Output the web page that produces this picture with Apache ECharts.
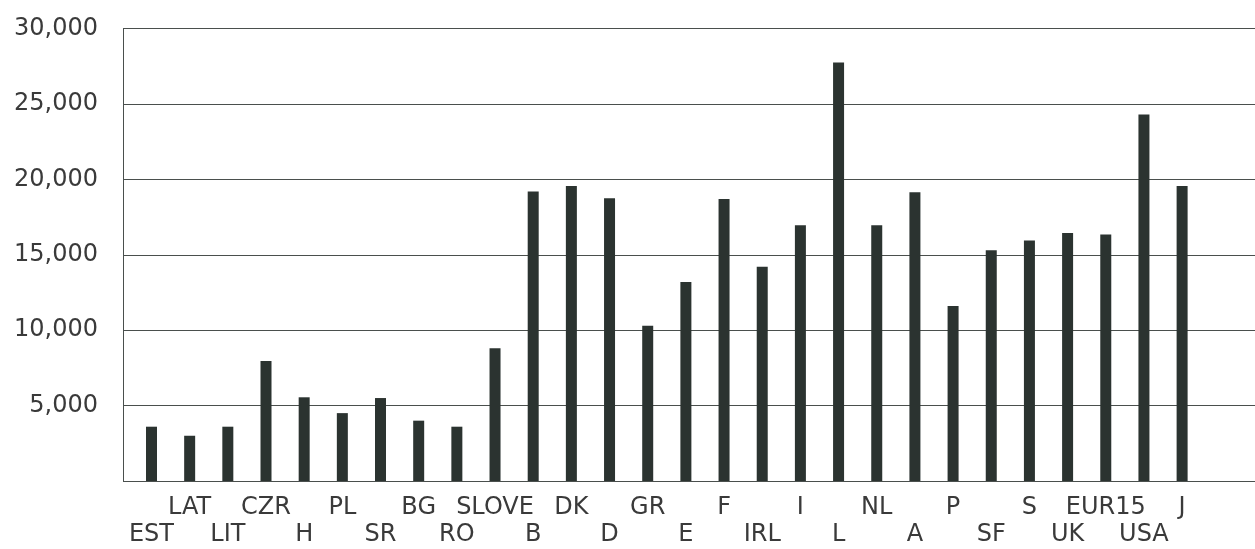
<!DOCTYPE html>
<html>
<head>
<meta charset="utf-8">
<script src="https://cdn.jsdelivr.net/npm/echarts@6/dist/echarts.min.js"></script>
<style>
html,body{margin:0;padding:0;background:#fff;}
#c{width:1255px;height:549px;}
</style>
</head>
<body>
<div id="c"></div>
<script>
const categories = ['EST','LAT','LIT','CZR','H','PL','SR','BG','RO','SLOVE','B','DK','D','GR','E','F','IRL','I','L','NL','A','P','SF','S','UK','EUR15','USA','J'];
const values = [3600,3000,3600,7950,5550,4500,5500,4000,3600,8800,19200,19550,18750,10300,13200,18700,14200,16950,27750,16950,19150,11600,15300,15950,16450,16350,24300,19550];
const yTicks = [0,5000,10000,15000,20000,25000,30000];

const chart = echarts.init(document.getElementById('c'), null, {renderer:'canvas'});
const font = 'DejaVu Sans';
const txt = '#3a3a3a';
const lineCol = '#4a4f4d';
chart.setOption({
  animation:false,
  backgroundColor:'#ffffff',
  grid:[
    {left:123, top:28.5, width:1132, height:452.5, containLabel:false},
    {left:132.4, top:28.5, width:1068.8, height:452.5, containLabel:false}
  ],
  xAxis:[
    {gridIndex:0, type:'value', min:0, max:1, show:false},
    {gridIndex:1, type:'category', data:categories,
     axisLine:{show:false}, axisTick:{show:false}, splitLine:{show:false},
     axisLabel:{interval:0, margin:13, fontFamily:font, fontSize:24, color:txt, lineHeight:27,
       formatter:function(v, i){ return (i % 2 === 1) ? (v + '\n ') : (' \n' + v); }}}
  ],
  yAxis:[
    {gridIndex:0, type:'value', min:yTicks[0], max:yTicks[yTicks.length-1], interval:yTicks[1]-yTicks[0],
     axisLine:{show:true, lineStyle:{color:lineCol, width:1}}, axisTick:{show:false},
     splitLine:{show:true, lineStyle:{color:lineCol, width:1}},
     axisLabel:{margin:25, fontFamily:font, fontSize:24, color:txt,
       formatter:function(v){ return v === 0 ? '' : v.toLocaleString('en-US'); }}},
    {gridIndex:1, type:'value', min:yTicks[0], max:yTicks[yTicks.length-1], show:false}
  ],
  series:[
    {type:'bar', xAxisIndex:1, yAxisIndex:1, data:values, barWidth:11,
     itemStyle:{color:'#2b3330'}}
  ]
});
</script>
</body>
</html>
